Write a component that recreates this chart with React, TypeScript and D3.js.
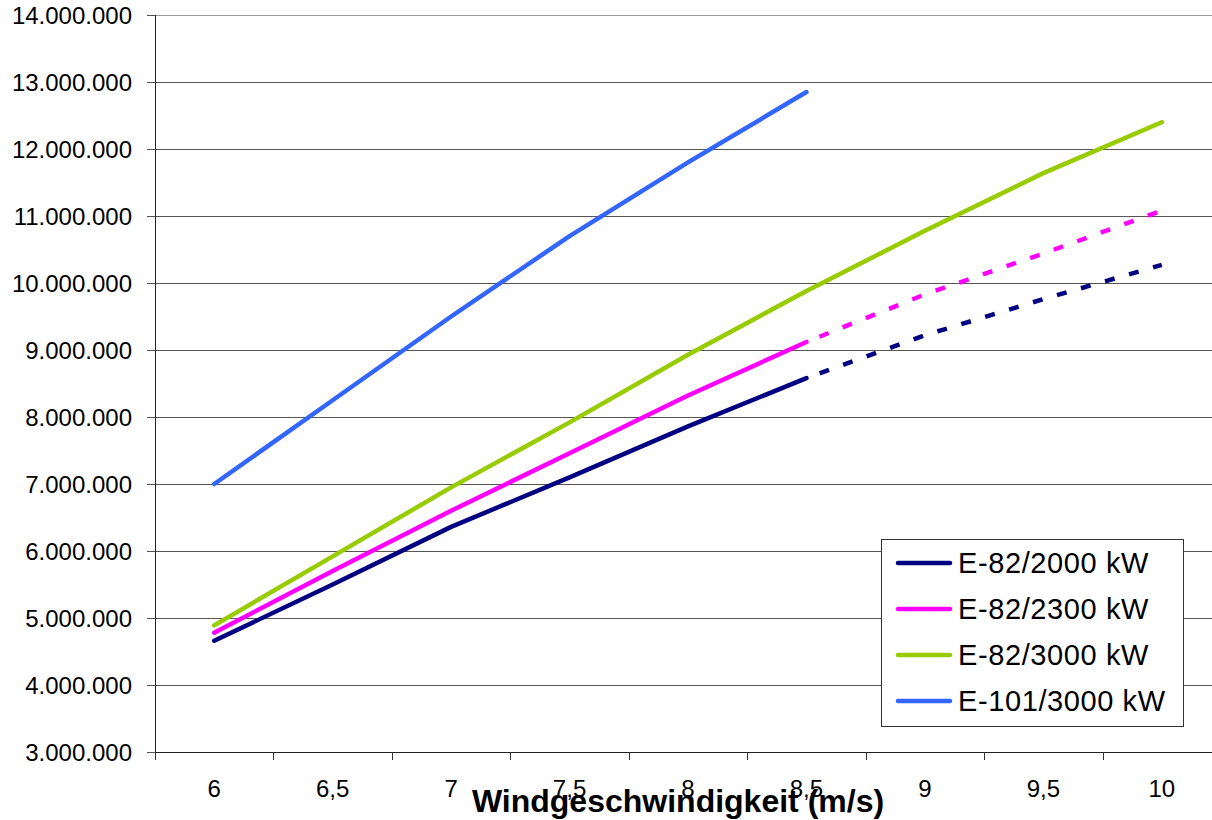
import { useEffect, useRef } from "react";
import * as d3 from "d3";

const speeds = ["6", "6,5", "7", "7,5", "8", "8,5", "9", "9,5", "10"];
const yTicks = [3, 4, 5, 6, 7, 8, 9, 10, 11, 12, 13, 14].map((d) => d * 1000000);

// kWh per year
const e82_2000 = [4660000, 5500000, 6360000, 7100000, 7860000, 8580000, 9220000, 9760000, 10270000];
const e82_2300 = [4780000, 5700000, 6600000, 7460000, 8320000, 9120000, 9830000, 10440000, 11080000];
const e82_3000 = [4890000, 5920000, 6950000, 7920000, 8930000, 9880000, 10780000, 11640000, 12400000];
const e101_3000 = [7000000, 8250000, 9500000, 10700000, 11800000, 12850000];

// index from which the curve is drawn dashed
const dashedFrom = [5, 5, -1, -1];

const seriesNames = ["E-82/2000 kW", "E-82/2300 kW", "E-82/3000 kW", "E-101/3000 kW"];
const seriesColors = ["#000080", "#ff00ff", "#99cc00", "#3366ff"];

function fmt(v: number) {
  return d3.format(",")(v).replace(/,/g, ".");
}

function App() {
  const ref = useRef<SVGSVGElement>(null);

  useEffect(() => {
    const width = 1212;
    const height = 820;
    const margin = { top: 15, right: -9, bottom: 68, left: 155 };
    const font = "'Liberation Sans', Arial, sans-serif";

    const svg = d3.select(ref.current);
    svg.selectAll("*").remove();

    const x = d3
      .scalePoint<string>()
      .domain(speeds)
      .range([margin.left, width - margin.right])
      .padding(0.5);
    const band = d3
      .scaleBand<string>()
      .domain(speeds)
      .range([margin.left, width - margin.right]);
    const y = d3
      .scaleLinear()
      .domain([3000000, 14000000])
      .range([height - margin.bottom, margin.top]);

    const x0 = margin.left;
    const x1 = width - margin.right;
    const yBottom = y(3000000);

    // grid lines
    svg
      .append("g")
      .selectAll("line")
      .data(yTicks.slice(1))
      .join("line")
      .attr("x1", x0)
      .attr("x2", x1)
      .attr("y1", (d) => Math.round(y(d)) + 0.5)
      .attr("y2", (d) => Math.round(y(d)) + 0.5)
      .attr("stroke", (d, i) => (i === yTicks.length - 2 ? "#999" : "#555"))
      .attr("stroke-width", 1);

    // y axis
    const yAxis = svg.append("g");
    yAxis
      .append("line")
      .attr("x1", x0 + 0.5)
      .attr("x2", x0 + 0.5)
      .attr("y1", margin.top)
      .attr("y2", yBottom)
      .attr("stroke", "#222");
    yAxis
      .selectAll("line.tick")
      .data(yTicks)
      .join("line")
      .attr("class", "tick")
      .attr("x1", x0 - 8)
      .attr("x2", x0)
      .attr("y1", (d) => Math.round(y(d)) + 0.5)
      .attr("y2", (d) => Math.round(y(d)) + 0.5)
      .attr("stroke", "#555");
    yAxis
      .selectAll("text")
      .data(yTicks)
      .join("text")
      .attr("x", 132)
      .attr("y", (d) => y(d) + 8.5)
      .attr("text-anchor", "end")
      .style("font-family", font)
      .style("font-size", "24px")
      .attr("fill", "#000")
      .text((d) => fmt(d));

    // x axis
    const xAxis = svg.append("g");
    xAxis
      .append("line")
      .attr("x1", x0)
      .attr("x2", x1)
      .attr("y1", Math.round(yBottom) + 0.5)
      .attr("y2", Math.round(yBottom) + 0.5)
      .attr("stroke", "#222");
    xAxis
      .selectAll("line.tick")
      .data(speeds)
      .join("line")
      .attr("class", "tick")
      .attr("x1", (d) => Math.round(band(d)!) + 0.5)
      .attr("x2", (d) => Math.round(band(d)!) + 0.5)
      .attr("y1", yBottom)
      .attr("y2", yBottom + 8)
      .attr("stroke", "#333");
    xAxis
      .selectAll("text")
      .data(speeds)
      .join("text")
      .attr("x", (d) => x(d)!)
      .attr("y", 797)
      .attr("text-anchor", "middle")
      .style("font-family", font)
      .style("font-size", "24px")
      .attr("fill", "#000")
      .text((d) => d);

    // lines
    const allSeries = [e82_2000, e82_2300, e82_3000, e101_3000];
    const line = d3
      .line<number>()
      .x((d, i) => x(speeds[i])!)
      .y((d) => y(d));
    const lineFrom = (start: number) =>
      d3
        .line<number>()
        .x((d, i) => x(speeds[i + start])!)
        .y((d) => y(d));

    allSeries.forEach((values, s) => {
      const cut = dashedFrom[s];
      const solid = cut >= 0 ? values.slice(0, cut + 1) : values;
      svg
        .append("path")
        .datum(solid)
        .attr("fill", "none")
        .attr("stroke", seriesColors[s])
        .attr("stroke-width", 4.5)
        .attr("stroke-linejoin", "round")
        .attr("stroke-linecap", "round")
        .attr("d", line);
      if (cut >= 0) {
        svg
          .append("path")
          .datum(values.slice(cut))
          .attr("fill", "none")
          .attr("stroke", seriesColors[s])
          .attr("stroke-width", 4.5)
          .attr("stroke-dasharray", "0 14 10 1")
          .attr("d", lineFrom(cut));
      }
    });

    // axis title
    svg
      .append("text")
      .attr("x", 678)
      .attr("y", 812)
      .attr("text-anchor", "middle")
      .style("font-family", font)
      .style("font-size", "32px")
      .style("font-weight", "bold")
      .attr("fill", "#000")
      .text("Windgeschwindigkeit (m/s)");

    // legend
    const legend = svg.append("g");
    legend
      .append("rect")
      .attr("x", 881.5)
      .attr("y", 539.5)
      .attr("width", 302)
      .attr("height", 187)
      .attr("fill", "#fff")
      .attr("stroke", "#333");
    const rows = legend
      .selectAll("g")
      .data(seriesNames)
      .join("g")
      .attr("transform", (d, i) => `translate(0, ${563 + i * 46})`);
    rows
      .append("line")
      .attr("x1", 898)
      .attr("x2", 950)
      .attr("stroke", (d, i) => seriesColors[i])
      .attr("stroke-width", 4.5)
      .attr("stroke-linecap", "round");
    rows
      .append("text")
      .attr("x", 958)
      .attr("y", 10)
      .style("font-family", font)
      .style("font-size", "29px")
      .style("letter-spacing", "0.6px")
      .attr("fill", "#000")
      .text((d) => d);
  }, []);

  return (
    <svg
      ref={ref}
      width={1212}
      height={820}
      style={{ position: "absolute", left: 0, top: 0, background: "#fff" }}
    />
  );
}

export default App;
